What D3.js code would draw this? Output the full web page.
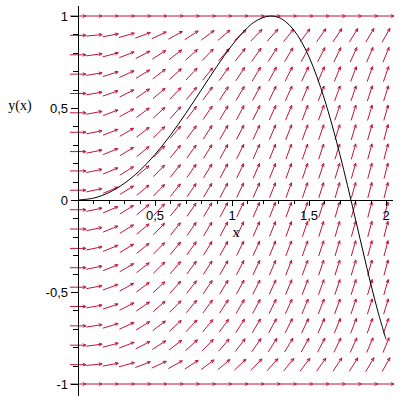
<!DOCTYPE html>
<html>
<head>
<meta charset="utf-8">
<script src="https://cdn.jsdelivr.net/npm/d3@7"></script>
<style>
  body { margin: 0; background: #fff; }
  .num { font-family: "Liberation Sans", Arial, sans-serif; font-size: 13px; }
  .lab { font-family: "Liberation Serif", "Times New Roman", serif; font-size: 14px; }
</style>
</head>
<body>
<div id="content"></div>
<script>
// grid of the direction field (20 x 20)
var xGrid = [0, 0.105, 0.211, 0.316, 0.421, 0.526, 0.632, 0.737, 0.842, 0.947,
  1.053, 1.158, 1.263, 1.368, 1.474, 1.579, 1.684, 1.789, 1.895, 2];
var yGrid = [-1, -0.895, -0.789, -0.684, -0.579, -0.474, -0.368, -0.263, -0.158, -0.053,
  0.053, 0.158, 0.263, 0.368, 0.474, 0.579, 0.684, 0.789, 0.895, 1];
// slope of the arrows on the y=0 line, per column
var colSlope = [0, 0.21, 0.42, 0.63, 0.84, 1.05, 1.26, 1.47, 1.68, 1.89,
  2.11, 2.32, 2.53, 2.74, 2.95, 3.16, 3.37, 3.58, 3.79, 4];
// how much each row flattens the slope (0 on y=+-1)
var rowFactor = [0, 0.447, 0.614, 0.729, 0.815, 0.881, 0.930, 0.965, 0.988, 0.999,
  0.999, 0.988, 0.965, 0.930, 0.881, 0.815, 0.729, 0.614, 0.447, 0];

// solution curve y(x)
var curveX = [0, 0.1, 0.2, 0.3, 0.4, 0.5, 0.6, 0.7, 0.8, 0.9, 1.0, 1.1, 1.15, 1.2, 1.25, 1.3,
  1.35, 1.4, 1.45, 1.5, 1.55, 1.6, 1.65, 1.7, 1.75, 1.8, 1.85, 1.9, 1.95, 2.0];
var curveY = [0, 0.01, 0.04, 0.09, 0.159, 0.247, 0.352, 0.471, 0.597, 0.724, 0.841, 0.936, 0.970, 0.991, 1.0, 0.993,
  0.968, 0.925, 0.862, 0.778, 0.673, 0.549, 0.407, 0.249, 0.079, -0.098, -0.277, -0.452, -0.614, -0.757];

// axis ticks
var xMajor = [0.5, 1, 1.5, 2];
var xMajorLabels = ["0,5", "1", "1,5", "2"];
var yMajor = [1, 0.5, 0, -0.5, -1];
var yMajorLabels = ["1", "0,5", "0", "-0,5", "-1"];

var width = 400, height = 400;

var x = d3.scaleLinear().domain([0, 2]).range([78, 386]);
var y = d3.scaleLinear().domain([-1, 1]).range([384, 16]);

var svg = d3.select("#content").append("svg")
  .attr("width", width)
  .attr("height", height);

// direction field arrows (direction taken in normalised units, same length everywhere)
var arrowLen = 16, headLen = 3.5, headAng = 0.42;
var arrows = [];
for (var j = 0; j < yGrid.length; j++) {
  for (var i = 0; i < xGrid.length; i++) {
    var s = colSlope[i] * rowFactor[j];
    arrows.push({cx: x(xGrid[i]), cy: y(yGrid[j]), a: Math.atan(s)});
  }
}

svg.append("g")
  .selectAll("path")
  .data(arrows)
  .enter().append("path")
  .attr("fill", "none")
  .attr("stroke", "#c0143c")
  .attr("stroke-width", 1)
  .attr("d", function(d) {
    var dx = Math.cos(d.a) * arrowLen / 2, dy = -Math.sin(d.a) * arrowLen / 2;
    var x0 = d.cx - dx, y0 = d.cy - dy, x1 = d.cx + dx, y1 = d.cy + dy;
    var b1 = d.a + Math.PI - headAng, b2 = d.a + Math.PI + headAng;
    return "M" + x0 + "," + y0 + "L" + x1 + "," + y1 +
      "M" + (x1 + Math.cos(b1) * headLen) + "," + (y1 - Math.sin(b1) * headLen) +
      "L" + x1 + "," + y1 +
      "L" + (x1 + Math.cos(b2) * headLen) + "," + (y1 - Math.sin(b2) * headLen);
  });

// axes
var axes = svg.append("g").attr("stroke", "#000").attr("stroke-width", 1);
axes.append("line")
  .attr("x1", x(0) + 0.5).attr("x2", x(0) + 0.5)
  .attr("y1", 6).attr("y2", 396);
axes.append("line")
  .attr("x1", x(0)).attr("x2", 393)
  .attr("y1", y(0) + 0.5).attr("y2", y(0) + 0.5);

// minor ticks every 0.1
var xTicks = d3.range(1, 21).map(function(k) { return k / 10; });
var yTicks = d3.range(-10, 11).map(function(k) { return k / 10; });

axes.selectAll(".xt")
  .data(xTicks)
  .enter().append("line")
  .attr("x1", function(d) { return Math.round(x(d)) + 0.5; })
  .attr("x2", function(d) { return Math.round(x(d)) + 0.5; })
  .attr("y1", y(0))
  .attr("y2", function(d) { return y(0) + (Math.abs(d * 2 - Math.round(d * 2)) < 1e-6 ? 6 : 4); });

axes.selectAll(".yt")
  .data(yTicks)
  .enter().append("line")
  .attr("y1", function(d) { return Math.round(y(d)) + 0.5; })
  .attr("y2", function(d) { return Math.round(y(d)) + 0.5; })
  .attr("x1", x(0))
  .attr("x2", function(d) { return x(0) - (Math.abs(d * 2 - Math.round(d * 2)) < 1e-6 ? 7 : 5); });

// tick labels
svg.selectAll(".xl")
  .data(xMajor)
  .enter().append("text")
  .attr("class", "num")
  .attr("x", function(d) { return x(d); })
  .attr("y", 220)
  .attr("text-anchor", "middle")
  .text(function(d, i) { return xMajorLabels[i]; });

svg.selectAll(".yl")
  .data(yMajor)
  .enter().append("text")
  .attr("class", "num")
  .attr("x", 68)
  .attr("y", function(d) { return y(d) + 5; })
  .attr("text-anchor", "end")
  .text(function(d, i) { return yMajorLabels[i]; });

svg.append("text").attr("class", "lab")
  .attr("x", 236).attr("y", 237).attr("text-anchor", "middle").text("x");
svg.append("text").attr("class", "lab")
  .attr("x", 20).attr("y", 110).attr("text-anchor", "middle").text("y(x)");

// solution curve
var pts = curveX.map(function(d, i) { return [d, curveY[i]]; });
var line = d3.line()
  .x(function(d) { return x(d[0]); })
  .y(function(d) { return y(d[1]); })
  .curve(d3.curveCatmullRom);

svg.append("path")
  .datum(pts)
  .attr("fill", "none")
  .attr("stroke", "#000")
  .attr("stroke-width", 1)
  .attr("d", line);
</script>
</body>
</html>
